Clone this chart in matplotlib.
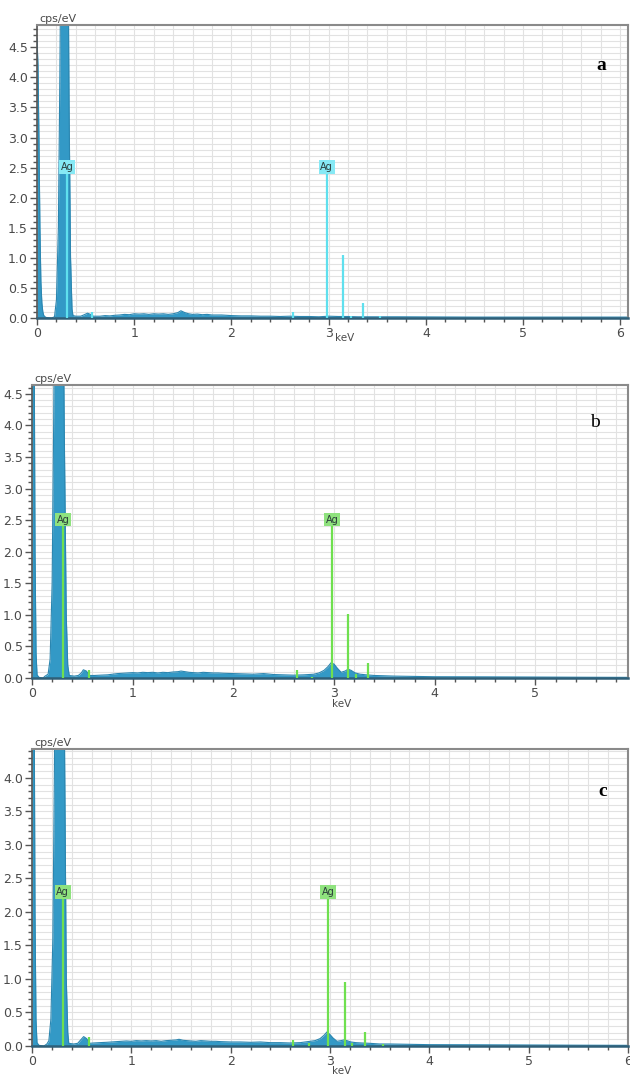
import matplotlib
matplotlib.use("Agg")
import matplotlib.pyplot as plt
from matplotlib.ticker import MultipleLocator

# ---------------- data ----------------
# Panel a spectrum outline (keV, cps/eV)
a_E = [0.00, 0.01, 0.02, 0.03, 0.04, 0.05, 0.06, 0.07, 0.09, 0.15, 0.18, 0.20, 0.22, 0.235, 0.245,
       0.32, 0.33, 0.345, 0.36, 0.37, 0.40, 0.45, 0.48, 0.52, 0.55, 0.58, 0.65, 0.70, 0.75, 0.80,
       0.85, 0.90, 0.95, 1.00, 1.05, 1.10, 1.15, 1.20, 1.25, 1.30, 1.35, 1.40, 1.45, 1.48, 1.52,
       1.56, 1.60, 1.65, 1.70, 1.75, 1.80, 1.90, 2.00, 2.10, 2.20, 2.30, 2.40, 2.50, 2.60, 2.70,
       2.80, 2.90, 3.00, 3.10, 3.20, 3.30, 3.40, 3.50, 3.70, 4.00, 4.50, 5.00, 5.50, 6.10]
a_I = [4.65, 4.20, 3.00, 1.50, 0.60, 0.25, 0.10, 0.04, 0.01, 0.00, 0.02, 0.30, 1.50, 4.00, 6.00,
       6.00, 3.50, 1.00, 0.15, 0.04, 0.03, 0.03, 0.05, 0.08, 0.06, 0.03, 0.03, 0.04, 0.035, 0.045,
       0.05, 0.06, 0.055, 0.07, 0.065, 0.07, 0.06, 0.07, 0.065, 0.07, 0.06, 0.07, 0.09, 0.12, 0.09,
       0.07, 0.06, 0.065, 0.055, 0.06, 0.05, 0.05, 0.04, 0.035, 0.035, 0.03, 0.03, 0.025, 0.03, 0.025,
       0.025, 0.02, 0.03, 0.025, 0.025, 0.02, 0.02, 0.02, 0.02, 0.018, 0.015, 0.015, 0.015, 0.015]

# Panel b spectrum outline
b_E = [0.00, 0.02, 0.03, 0.04, 0.05, 0.07, 0.11, 0.13, 0.16, 0.18, 0.20, 0.215, 0.225, 0.31, 0.32,
       0.34, 0.355, 0.37, 0.42, 0.46, 0.49, 0.51, 0.54, 0.57, 0.62, 0.68, 0.75, 0.80, 0.85, 0.90,
       0.95, 1.00, 1.05, 1.10, 1.15, 1.20, 1.25, 1.30, 1.35, 1.40, 1.45, 1.48, 1.52, 1.56, 1.60,
       1.65, 1.70, 1.75, 1.80, 1.85, 1.90, 2.00, 2.10, 2.20, 2.30, 2.40, 2.50, 2.60, 2.70, 2.80,
       2.85, 2.90, 2.94, 2.97, 3.00, 3.03, 3.07, 3.11, 3.14, 3.17, 3.21, 3.26, 3.32, 3.40, 3.50,
       3.60, 3.80, 4.00, 4.50, 5.00, 5.50, 5.95]
b_I = [6.00, 6.00, 2.00, 0.40, 0.05, 0.01, 0.00, 0.03, 0.06, 0.30, 1.50, 4.00, 6.00, 6.00, 4.00,
       1.00, 0.20, 0.04, 0.03, 0.04, 0.08, 0.13, 0.11, 0.04, 0.04, 0.045, 0.05, 0.06, 0.07, 0.075,
       0.08, 0.085, 0.08, 0.09, 0.085, 0.09, 0.08, 0.09, 0.085, 0.095, 0.10, 0.11, 0.10, 0.09, 0.085,
       0.08, 0.09, 0.085, 0.08, 0.08, 0.075, 0.07, 0.065, 0.06, 0.07, 0.055, 0.05, 0.045, 0.05, 0.06,
       0.08, 0.12, 0.18, 0.24, 0.22, 0.16, 0.09, 0.11, 0.14, 0.12, 0.08, 0.06, 0.05, 0.04, 0.035,
       0.03, 0.025, 0.02, 0.018, 0.015, 0.012, 0.01]

# Panel c spectrum outline
c_E = [0.00, 0.02, 0.03, 0.04, 0.05, 0.07, 0.12, 0.15, 0.17, 0.19, 0.21, 0.225, 0.235, 0.32, 0.33,
       0.345, 0.36, 0.37, 0.42, 0.46, 0.49, 0.52, 0.55, 0.58, 0.62, 0.68, 0.75, 0.80, 0.85, 0.90,
       0.95, 1.00, 1.05, 1.10, 1.15, 1.20, 1.25, 1.30, 1.35, 1.40, 1.45, 1.48, 1.52, 1.56, 1.60,
       1.65, 1.70, 1.75, 1.80, 1.85, 1.90, 2.00, 2.10, 2.20, 2.30, 2.40, 2.50, 2.60, 2.70, 2.80,
       2.85, 2.90, 2.94, 2.97, 3.00, 3.03, 3.07, 3.11, 3.14, 3.17, 3.21, 3.26, 3.32, 3.40, 3.50,
       3.60, 3.80, 4.00, 4.50, 5.00, 5.50, 6.00]
c_I = [6.00, 6.00, 2.00, 0.40, 0.05, 0.01, 0.00, 0.03, 0.08, 0.40, 1.60, 4.00, 6.00, 6.00, 4.00,
       1.00, 0.20, 0.04, 0.03, 0.04, 0.09, 0.14, 0.11, 0.04, 0.045, 0.05, 0.055, 0.06, 0.065, 0.07,
       0.075, 0.07, 0.08, 0.075, 0.08, 0.075, 0.08, 0.07, 0.08, 0.085, 0.09, 0.10, 0.085, 0.08, 0.075,
       0.07, 0.08, 0.075, 0.07, 0.07, 0.065, 0.06, 0.06, 0.055, 0.06, 0.05, 0.05, 0.045, 0.05, 0.07,
       0.08, 0.11, 0.16, 0.21, 0.17, 0.12, 0.07, 0.08, 0.09, 0.08, 0.06, 0.05, 0.045, 0.04, 0.03,
       0.03, 0.025, 0.02, 0.018, 0.015, 0.012, 0.01]

# Element marker lines (keV, height)
a_lines_E = [0.31, 0.57, 2.63, 2.98, 3.15, 3.23, 3.35, 3.53]
a_lines_H = [2.42, 0.10, 0.10, 2.42, 1.05, 0.04, 0.25, 0.03]
b_lines_E = [0.31, 0.57, 2.63, 2.78, 2.98, 3.14, 3.22, 3.34]
b_lines_H = [2.42, 0.12, 0.13, 0.02, 2.42, 1.02, 0.06, 0.24]
c_lines_E = [0.31, 0.57, 2.63, 2.79, 2.98, 3.15, 3.22, 3.35, 3.53]
c_lines_H = [2.22, 0.13, 0.09, 0.04, 2.22, 0.96, 0.05, 0.21, 0.03]

# Labels
label_text = "Ag"
a_label_E, a_label_y = [0.31, 2.98], 2.51
b_label_E, b_label_y = [0.31, 2.98], 2.51
c_label_E, c_label_y = [0.31, 2.98], 2.30
panel_names = ["a", "b", "c"]

# ---------------- style ----------------
W, H = 630, 1074
fig = plt.figure(figsize=(W / 100, H / 100), dpi=100)

FILL = "#3399c6"
EDGE = "#2b86b0"
CYAN = "#5fe0ee"
CYAN_BOX = "#86e9f5"
GREEN = "#6fe04f"
GREEN_BOX = "#8fe27e"
TXT = "#4a4a4a"


def px_axes(left, right, top, bottom):
    return [left / W, 1 - bottom / H, (right - left) / W, (bottom - top) / H]


panels = [
    dict(rect=px_axes(37, 628, 25, 318), xmax=6.08, ymax=4.87,
         E=a_E, I=a_I, LE=a_lines_E, LH=a_lines_H, col=CYAN, box=CYAN_BOX,
         labE=a_label_E, laby=a_label_y, name_xy=(601, 65), bold=True, keV_y=338),
    dict(rect=px_axes(32, 628, 385, 678), xmax=5.92, ymax=4.64,
         E=b_E, I=b_I, LE=b_lines_E, LH=b_lines_H, col=GREEN, box=GREEN_BOX,
         labE=b_label_E, laby=b_label_y, name_xy=(595, 423), bold=False, keV_y=704),
    dict(rect=px_axes(32, 628, 749, 1046), xmax=6.0, ymax=4.43,
         E=c_E, I=c_I, LE=c_lines_E, LH=c_lines_H, col=GREEN, box=GREEN_BOX,
         labE=c_label_E, laby=c_label_y, name_xy=(603, 792), bold=True, keV_y=1071),
]

for p, name in zip(panels, panel_names):
    ax = fig.add_axes(p["rect"])
    ax.set_facecolor("white")
    ax.set_xlim(0, p["xmax"])
    ax.set_ylim(0, p["ymax"])

    ax.xaxis.set_major_locator(MultipleLocator(1))
    ax.xaxis.set_minor_locator(MultipleLocator(0.2))
    ax.yaxis.set_major_locator(MultipleLocator(0.5))
    ax.yaxis.set_minor_locator(MultipleLocator(0.1))
    ax.yaxis.set_major_formatter(plt.FuncFormatter(lambda v, _: f"{v:.1f}"))
    ax.xaxis.set_major_formatter(plt.FuncFormatter(lambda v, _: f"{v:.0f}"))

    ax.grid(which="both", axis="both", color="#e2e2e2", lw=0.8, zorder=0)
    ax.set_axisbelow(True)

    ax.tick_params(axis="both", which="major", direction="out", length=5, width=1,
                   color="#555555", labelsize=9, labelcolor=TXT, pad=1.5)
    ax.tick_params(axis="both", which="minor", direction="out", length=3, width=1,
                   color="#555555")

    for s in ["top", "right"]:
        ax.spines[s].set_color("#8a8a8a")
        ax.spines[s].set_linewidth(1.5)
    ax.spines["left"].set_color("#555555")
    ax.spines["left"].set_linewidth(1.2)
    ax.spines["bottom"].set_color("#2f5f78")
    ax.spines["bottom"].set_linewidth(1.8)

    ax.fill_between(p["E"], 0, p["I"], color=FILL, lw=0, zorder=2)
    ax.plot(p["E"], p["I"], color=EDGE, lw=0.8, zorder=2)

    ax.vlines(p["LE"], 0, p["LH"], color=p["col"], lw=1.6, zorder=3)

    for xe in p["labE"]:
        ax.text(xe, p["laby"], label_text, ha="center", va="center", fontsize=7,
                color="#2a3a3a", zorder=4,
                bbox=dict(boxstyle="square,pad=0.18", fc=p["box"], ec="none"))

    # axis captions
    x0 = p["rect"][0]
    ytop = p["rect"][1] + p["rect"][3]
    fig.text(x0 + 2 / W, ytop + 1 / H, "cps/eV", fontsize=8, color=TXT,
             ha="left", va="bottom")
    fig.text(x0 + p["rect"][2] * 0.52, 1 - p["keV_y"] / H, "keV", fontsize=7.5,
             color=TXT, ha="center", va="center")

    nx, ny = p["name_xy"]
    fig.text(nx / W, 1 - ny / H, name, fontsize=14, family="Liberation Serif",
             fontweight="bold" if p["bold"] else "normal", color="black",
             ha="center", va="center")

fig.savefig("out.png", dpi=100)
